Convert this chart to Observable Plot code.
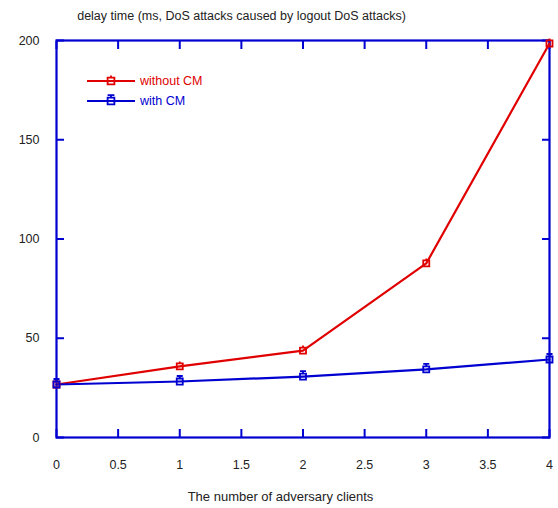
<!DOCTYPE html>
<html>
<head>
<meta charset="utf-8">
<script src="https://cdn.jsdelivr.net/npm/d3@7"></script>
<script src="https://cdn.jsdelivr.net/npm/@observablehq/plot@0.6"></script>
<style>
  body { margin: 0; background: #fff; }
  #wrap { position: relative; width: 558px; height: 508px; font-family: "Liberation Sans", Arial, sans-serif; }
  #legend { position: absolute; left: 86px; top: 71px; font-size: 12.5px; line-height: 20px; }
  #legend div { display: flex; align-items: center; height: 20px; }
  #legend svg { margin-right: 4px; }
</style>
</head>
<body>
<div id="wrap"><div id="legend"></div></div>
<script>
const clients = [0, 1, 2, 3, 4];
const withoutCM = [26.7, 35.8, 43.8, 87.7, 198.5];
const withCM = [26.7, 28.2, 30.7, 34.3, 39.3];
const seriesNames = ["without CM", "with CM"];
const seriesColors = ["#e00000", "#0000d0"];
const xTicks = [0, 0.5, 1, 1.5, 2, 2.5, 3, 3.5, 4];
const yTicks = [0, 50, 100, 150, 200];
const title = "delay time (ms, DoS attacks caused by logout DoS attacks)";
const xLabel = "The number of adversary clients";

const data = [
  ...clients.map((x, i) => ({x, y: withoutCM[i], s: seriesNames[0]})),
  ...clients.map((x, i) => ({x, y: withCM[i], s: seriesNames[1]}))
];

// square marker with small error-bar-like caps
const capSquare = {
  draw(ctx, size) {
    const h = Math.sqrt(size) / 2;
    ctx.moveTo(-h, -h); ctx.lineTo(h, -h); ctx.lineTo(h, h); ctx.lineTo(-h, h); ctx.closePath();
    ctx.moveTo(0, -h); ctx.lineTo(0, -h - 2.5);
    ctx.moveTo(-h, -h - 2.5); ctx.lineTo(h, -h - 2.5);
  }
};
const topSquare = {
  draw(ctx, size) {
    const h = Math.sqrt(size) / 2;
    ctx.moveTo(-h, -h); ctx.lineTo(h, -h); ctx.lineTo(h, h); ctx.lineTo(-h, h); ctx.closePath();
    ctx.moveTo(0, -h); ctx.lineTo(0, -h - 2);
  }
};

const blue = seriesColors[1];
const font = "Liberation Sans, Arial, sans-serif";

const chart = Plot.plot({
  width: 558,
  height: 508,
  marginLeft: 56,
  marginRight: 9,
  marginTop: 40,
  marginBottom: 71,
  style: {fontFamily: font, fontSize: "12.5px", color: "#222", background: "#fff"},
  x: {domain: [0, 4]},
  y: {domain: [0, 200]},
  color: {domain: seriesNames, range: seriesColors},
  marks: [
    Plot.frame({stroke: blue, strokeWidth: 2.2}),
    Plot.axisX(xTicks, {anchor: "bottom", tickSize: -8, stroke: blue, strokeWidth: 2, text: null, label: null}),
    Plot.axisX(xTicks, {anchor: "top", tickSize: -8, stroke: blue, strokeWidth: 2, text: null, label: null}),
    Plot.axisY(yTicks, {anchor: "left", tickSize: -8, stroke: blue, strokeWidth: 2, text: null, label: null}),
    Plot.axisY(yTicks, {anchor: "right", tickSize: -8, stroke: blue, strokeWidth: 2, text: null, label: null}),
    Plot.axisX(xTicks, {anchor: "bottom", tickSize: 0, tickPadding: 23, label: null, fill: "#222", fontSize: 12.5, tickFormat: d => String(d)}),
    Plot.axisY(yTicks, {anchor: "left", tickSize: 0, tickPadding: 17, label: null, fill: "#222", fontSize: 12.5}),
    Plot.line(data, {x: "x", y: "y", z: "s", stroke: "s", strokeWidth: 2.2}),
    Plot.dot(data.filter(d => d.s === seriesNames[0]), {x: "x", y: "y", stroke: seriesColors[0], strokeWidth: 1.8, r: 3.4, symbol: topSquare, fill: "none"}),
    Plot.dot(data.filter(d => d.s === seriesNames[1]), {x: "x", y: "y", stroke: seriesColors[1], strokeWidth: 1.8, r: 3.4, symbol: capSquare, fill: "none"}),
    Plot.text([title], {frameAnchor: "top-left", dx: 185, dy: -29, text: d => d, fill: "#222", fontSize: 12.5, textAnchor: "middle"}),
    Plot.text([xLabel], {frameAnchor: "bottom-left", dx: 224, dy: 63, text: d => d, fill: "#222", fontSize: 13, textAnchor: "middle"})
  ]
});
document.getElementById("wrap").prepend(chart);

// legend
const legend = d3.select("#legend");
seriesNames.forEach((name, i) => {
  const row = legend.append("div");
  const svg = row.append("svg").attr("width", 50).attr("height", 16);
  svg.append("line").attr("x1", 1).attr("x2", 49).attr("y1", 8).attr("y2", 8)
    .attr("stroke", seriesColors[i]).attr("stroke-width", 2.2);
  svg.append("path").attr("transform", "translate(25,8)")
    .attr("d", d3.symbol(i === 0 ? topSquare : capSquare, 46)())
    .attr("fill", "none").attr("stroke", seriesColors[i]).attr("stroke-width", 1.8);
  row.append("span").text(name).style("color", seriesColors[i]);
});
</script>
</body>
</html>
